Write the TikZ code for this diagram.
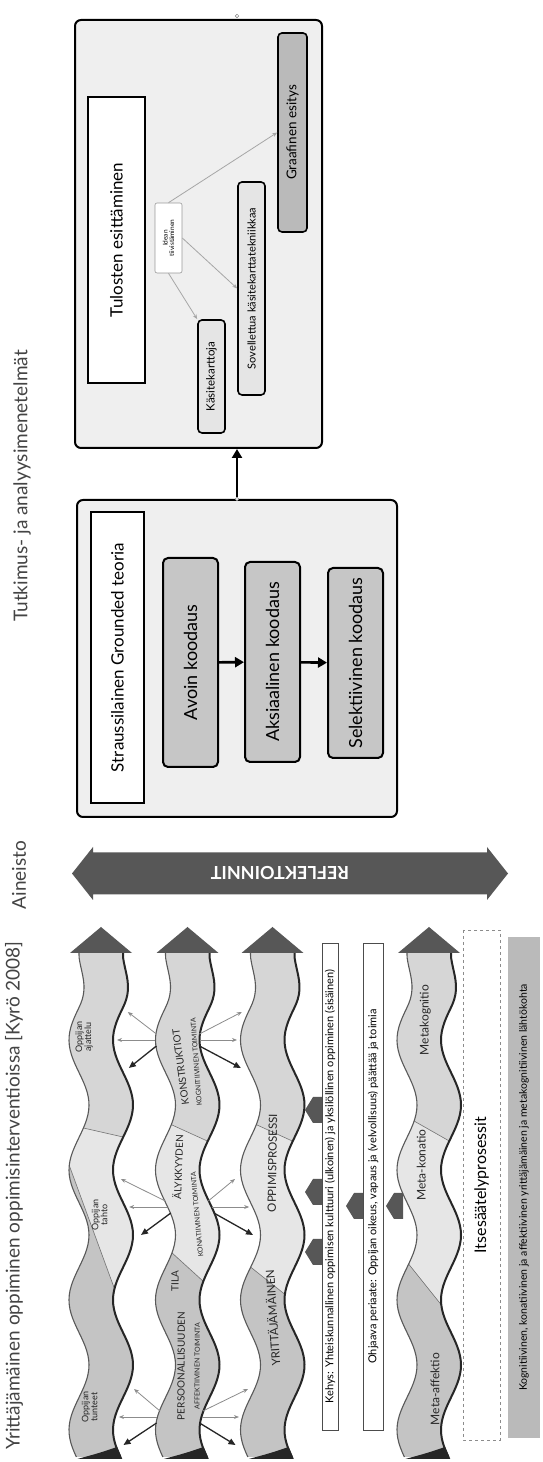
\documentclass[tikz,border=0pt]{standalone}
\usepackage{fontspec}
\setmainfont{Lato}
\usetikzlibrary{arrows.meta}
\definecolor{headgray}{HTML}{575757}
\definecolor{boxbg}{HTML}{EFEFEF}
\definecolor{codegray}{HTML}{C6C6C6}
\definecolor{seglo}{HTML}{C4C4C4}
\definecolor{segmid}{HTML}{E6E6E6}
\definecolor{seghi}{HTML}{D6D6D6}
\definecolor{titlecol}{HTML}{444444}
\newcommand\fs[1]{\fontsize{#1}{#1}\selectfont}
% ribbon: #1 centre D, #2/#3 divider 1 top/bottom X, #4/#5 divider 2 top/bottom X
\newcommand\wavy[5]{%
  \begin{scope}
    \clip plot[domain=5:509,samples=110] (\x,{-(#1-22+wv(\x))}) -- plot[domain=509:5,samples=110] (\x,{-(#1+22+wv(\x))}) -- cycle;
    \fill[seghi] (0,{-(#1-60)}) rectangle (520,{-(#1+60)});
    \fill[segmid] (0,{-(#1-60)}) -- ({#4-0.8636*(#5-#4)},{-(#1-60)}) -- ({#5+0.8636*(#5-#4)},{-(#1+60)}) -- (0,{-(#1+60)}) -- cycle;
    \fill[seglo] (0,{-(#1-60)}) -- ({#2-0.8636*(#3-#2)},{-(#1-60)}) -- ({#3+0.8636*(#3-#2)},{-(#1+60)}) -- (0,{-(#1+60)}) -- cycle;
    \draw[divline] ({#2-0.8636*(#3-#2)},{-(#1-60)}) -- ({#3+0.8636*(#3-#2)},{-(#1+60)});
    \draw[divline] ({#4-0.8636*(#5-#4)},{-(#1-60)}) -- ({#5+0.8636*(#5-#4)},{-(#1+60)});
  \end{scope}
  \draw[ribtop] plot[domain=5:509,samples=110] (\x,{-(#1-22+wv(\x))});
  \draw[ribbot] plot[domain=5:509,samples=110] (\x,{-(#1+22+wv(\x))});
  \fill[headgray] (509,{-(#1-31)}) -- (535,{-#1}) -- (509,{-(#1+31)}) -- cycle;
  \fill[black!85] (3,{-(#1-22+wv(3))}) .. controls (9,{-(#1+wv(3))}) .. (15,{-(#1+23+wv(15))}) -- (3,{-(#1+23+wv(3))}) -- cycle;
}
% word on a ribbon: #1 name, #2 from X, #3 to X, #4 line D, #5 font size, #6 text
\newcommand\wword[6]{%
  \pgfmathsetmacro\wwA{wv(#2)}%
  \pgfmathsetmacro\wwB{wv(#3)}%
  \pgfmathsetmacro\wwM{wv((#2+#3)/2)}%
  \pgfmathsetmacro\wwC{(\wwA+\wwB+2*\wwM)/4}%
  \pgfmathsetmacro\wwR{atan(-(\wwB-\wwA)/(#3-#2))}%
  \node[inner sep=0pt,text=black!85,font=\fs{#5},rotate=\wwR] (#1) at ({(#2+#3)/2},{-(#4+\wwC)}) {#6};%
}
\newcommand\pent[2]{\fill[headgray] ({#1-13},{-(#2)}) -- ({#1+13},{-(#2)}) -- ({#1+13},{-(#2-9)}) -- (#1,{-(#2-17)}) -- ({#1-13},{-(#2-9)}) -- cycle;}
\begin{document}
\begin{tikzpicture}[x=1pt,y=1pt,
  declare function={wv(\q)=10*sin((\q)*2.7692+181.4)*min(1,max(0,(505-\q)/50));},
  divline/.style={draw=black!55,line width=0.6pt},
  ribtop/.style={draw=black!65,line width=1.1pt},
  ribbot/.style={draw=black!85,line width=2pt},
  outerbox/.style={draw=black,line width=2pt,fill=boxbg,rounded corners=6pt,inner sep=0pt},
  titlebox/.style={draw=black,line width=2pt,fill=white,inner sep=0pt,font=\fs{17}},
  codebox/.style={draw=black,line width=2pt,fill=codegray,rounded corners=5pt,inner sep=0pt,font=\fs{18}},
  smallbox/.style={draw=black,line width=1.6pt,fill=black!10,rounded corners=4pt,inner sep=0pt},
  textbox/.style={draw=black!70,line width=0.9pt,fill=white,inner sep=0pt,font=\fs{11}},
  titletext/.style={text=titlecol,inner sep=0pt,font=\fs{19}},
  thinarr/.style={draw=black!45,line width=0.8pt,-{Stealth[length=5pt,width=4pt]}},
  darkarr/.style={draw=black!85,line width=1.3pt,-{Triangle[length=7pt,width=6pt]}},
  bigarr/.style={draw=black,line width=2.6pt,-{Triangle[length=9pt,width=10pt]}},
  grayline/.style={draw=black!35,line width=0.8pt,-{Stealth[length=5pt,width=4pt]}},
  wlabel/.style={inner sep=0pt,font=\fs{9},align=center,text=black!85},
]
\begin{scope}[rotate=90,transform shape]
\useasboundingbox (0,0) rectangle (1462,-543);
\fill[white] (0,0) rectangle (1462,-543);

% ---------- titles
\node[titletext] (t1) at (266,-14) {Yrittäjämäinen oppiminen oppimisinterventioissa [Kyrö 2008]};
\node[titletext] (t2) at (587,-19) {Aineisto};
\node[titletext] (t3) at (976,-22) {Tutkimus- ja analyysimenetelmät};

% ---------- results box
\node[outerbox,minimum width=428pt,minimum height=247pt] (tulbox) at (1228,-198.5) {};
\node[titlebox,minimum width=286pt,minimum height=57pt] (tul) at (1222,-116.5) {Tulosten esittäminen};
\node[draw=black!40,line width=0.6pt,fill=white,rounded corners=2pt,minimum width=70pt,minimum height=27pt,inner sep=0pt,align=center,font=\fs{6.5}] (idea) at (1224,-168.5) {Idean\\tiivistäminen};
\node[smallbox,minimum width=113pt,minimum height=27pt,font=\fs{11.5}] (kasite) at (1085.5,-211.5) {Käsitekarttoja};
\node[smallbox,minimum width=213pt,minimum height=27pt,font=\fs{11}] (sovel) at (1173.5,-251.5) {Sovellettua käsitekarttatekniikkaa};
\node[smallbox,fill=black!27,minimum width=199pt,minimum height=29pt,font=\fs{13.5}] (graaf) at (1329.5,-292.5) {Graafinen esitys};
\draw[grayline] (idea.west) -- (kasite.north east);
\draw[grayline] (idea.south) -- (sovel.north);
\draw[grayline] (idea.east) -- (graaf.north);
\node[draw=black!50,line width=0.5pt,fill=white,circle,inner sep=1.3pt] (mk1) at (1446,-237) {};

% ---------- grounded theory box
\node[outerbox,minimum width=317pt,minimum height=320pt] (gtbox) at (803.5,-237) {};
\node[titlebox,minimum width=291pt,minimum height=53pt] (gt) at (804.5,-117.5) {Straussilainen Grounded teoria};
\node[codebox,minimum width=209pt,minimum height=55pt] (avoin) at (799.5,-190.5) {Avoin koodaus};
\node[codebox,minimum width=200pt,minimum height=55pt] (aksi) at (800,-272.5) {Aksiaalinen koodaus};
\node[codebox,minimum width=190pt,minimum height=55pt] (sele) at (799,-355.5) {Selektiivinen koodaus};
\draw[bigarr] (avoin) -- (aksi);
\draw[bigarr] (aksi) -- (sele);
\node[draw=black!50,line width=0.5pt,fill=white,circle,inner sep=1.3pt] (mk2) at (gtbox.east |- 0,-237) {};
\draw[bigarr] (mk2) -- (tulbox.west |- mk2);

% ---------- reflection double arrow
\fill[headgray] (588.5,-72) -- (615,-93) -- (609.5,-93) -- (609.5,-487) -- (615,-487) -- (588.5,-508) -- (562,-487) -- (567.5,-487) -- (567.5,-93) -- (562,-93) -- cycle;
\node[rotate=90,text=white,font=\bfseries\fs{18}] (refl) at (588.5,-280) {REFLEKTOINNIT};

% ---------- ribbons
\wavy{101}{270}{150}{335}{325}
\wavy{187.5}{215}{175}{340}{320}
\wavy{272.5}{195}{160}{340}{320}
\wavy{429}{200}{145}{345}{320}

% labels ribbon 1
\node[wlabel] (o1) at (55,{-(94+wv(55))}) {Oppijan\\tunteet};
\node[wlabel] (o2) at (247,{-(94+wv(247))}) {Oppijan\\tahto};
\node[wlabel] (o3) at (425,{-(94+wv(425))}) {Oppijan\\ajattelu};

% labels ribbon 2
\wword{p1}{36}{156}{181}{10}{PERSOONALLISUUDEN}
\node[inner sep=0pt,text=black!85,font=\fs{10}] (p2) at (181,{-(181+wv(181))}) {TILA};
\wword{p3}{255}{335}{181}{10}{ÄLYKKYYDEN}
\wword{p4}{345}{445}{181}{10}{KONSTRUKTIOT}
\wword{q1}{42}{150}{196.5}{7}{AFFEKTIIVINEN TOIMINTA}
\wword{q2}{195}{300}{196.5}{7}{KONATIIVINEN TOIMINTA}
\wword{q3}{345}{455}{196.5}{7}{KOGNITIIVINEN TOIMINTA}

% labels ribbon 3
\wword{r1}{89}{199}{272.5}{11.5}{YRITTÄJÄMÄINEN}
\wword{r2}{239}{359}{272.5}{11.5}{OPPIMISPROSESSI}

% labels ribbon 4
\node[wlabel,font=\fs{12}] (m1) at (73,{-(431+wv(73))}) {Meta-affektio};
\node[wlabel,font=\fs{12}] (m2) at (297,{-(431+wv(297))}) {Meta-konatio};
\node[wlabel,font=\fs{12}] (m3) at (442,{-(431+wv(442))}) {Metakognitio};

% radiating arrows from ribbon 2
\foreach \xs in {422,255,45}{
  \draw[thinarr] (\xs,{-(165+wv(\xs))}) -- (\xs,{-(127+wv(\xs))});
  \draw[thinarr] (\xs,{-(210+wv(\xs))}) -- (\xs,{-(247+wv(\xs))});
  \draw[darkarr] ({\xs-6},{-(166+wv(\xs-6))}) -- ({\xs-28},{-(131+wv(\xs-28))});
  \draw[thinarr] ({\xs+6},{-(166+wv(\xs+6))}) -- ({\xs+28},{-(130+wv(\xs+28))});
  \draw[darkarr] ({\xs-6},{-(209+wv(\xs-6))}) -- ({\xs-28},{-(243+wv(\xs-28))});
  \draw[thinarr] ({\xs+6},{-(209+wv(\xs+6))}) -- ({\xs+28},{-(244+wv(\xs+28))});
}

% frame boxes
\node[textbox,minimum width=487pt,minimum height=16pt] (kehys) at (275.5,-330) {Kehys: Yhteiskunnallinen oppimisen kulttuuri (ulkoinen) ja yksilöllinen oppiminen (sisäinen)};
\node[textbox,minimum width=487pt,minimum height=20pt] (ohj) at (275.5,-373) {Ohjaava periaate: Oppijan oikeus, vapaus ja (velvollisuus) päättää ja toimia};
\pent{352}{322}
\pent{270}{322}
\pent{210}{322}
\pent{256}{363}
\pent{256}{403}

\node[draw=black!45,dashed,line width=0.7pt,fill=white,minimum width=510pt,minimum height=37pt,inner sep=0pt,font=\fs{16}] (itse) at (277,-481.5) {Itsesäätelyprosessit};
\node[fill=black!27,minimum width=501pt,minimum height=32pt,inner sep=0pt,font=\fs{10.5}] (kog) at (274.5,-524) {Kognitiivinen, konatiivinen ja affektiivinen yrittäjämäinen ja metakognitiivinen lähtökohta};
\end{scope}
\end{tikzpicture}
\end{document}
